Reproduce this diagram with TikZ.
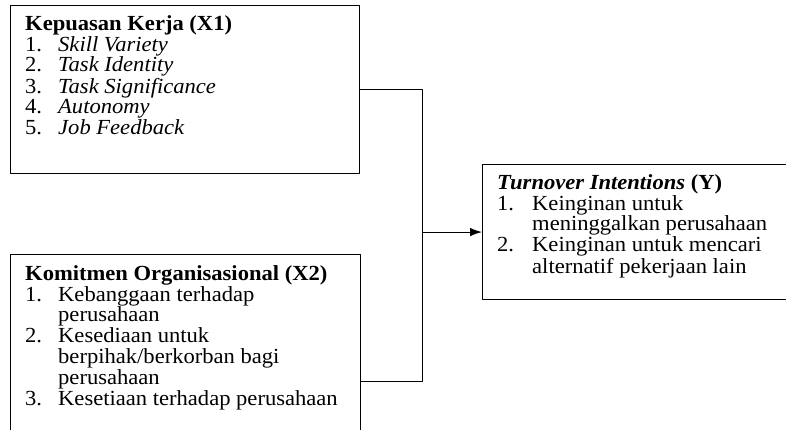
\documentclass[tikz,border=0pt]{standalone}
\usepackage{fontspec}
\setmainfont{Liberation Serif}[FakeStretch=1.05]
\usetikzlibrary{arrows.meta}
\newcommand{\boxtext}{\fontsize{21.5}{20}\selectfont}
\tikzset{
	varbox/.style={draw,line width=1.1pt,anchor=north west,inner sep=0},
	vartext/.style={anchor=north west,inner sep=0,font=\boxtext}
}
\begin{document}
\begin{tikzpicture}[x=1pt,y=-1pt,line join=round,>={Latex[length=12pt,width=8.5pt]}]
	\clip (0,0) rectangle (786,430);
	% kotak variabel
	\node[varbox,minimum width=349pt,minimum height=168pt] (x1) at (10,5) {};
	\node[varbox,minimum width=350pt,minimum height=254pt] (x2) at (10,254) {};
	\node[varbox,minimum width=318pt,minimum height=135pt] (y) at (482,164) {};
	\node[vartext] (x1txt) at (25,15) {\begin{tabular}{@{}p{33pt}@{}l@{}}
		\multicolumn{2}{@{}l@{}}{\textbf{Kepuasan Kerja (X1)}}\\
		1. & \textit{Skill Variety}\\
		2. & \textit{Task Identity}\\
		3. & \textit{Task Significance}\\
		4. & \textit{Autonomy}\\
		5. & \textit{Job Feedback}
	\end{tabular}};
	\node[vartext] (x2txt) at (25,265) {\begin{tabular}{@{}p{33pt}@{}l@{}}
		\multicolumn{2}{@{}l@{}}{\textbf{Komitmen Organisasional (X2)}}\\
		1. & Kebanggaan terhadap\\
		   & perusahaan\\
		2. & Kesediaan untuk\\
		   & berpihak/berkorban bagi\\
		   & perusahaan\\
		3. & Kesetiaan terhadap perusahaan
	\end{tabular}};
	\node[vartext] (ytxt) at (497,174) {\begin{tabular}{@{}p{35pt}@{}l@{}}
		\multicolumn{2}{@{}l@{}}{\textbf{\textit{Turnover Intentions} (Y)}}\\
		1. & Keinginan untuk\\
		   & meninggalkan perusahaan\\
		2. & Keinginan untuk mencari\\
		   & alternatif pekerjaan lain
	\end{tabular}};
	% garis penghubung
	\coordinate (j) at (422,232);
	\draw[line width=1pt] (x1.east) -- (x1.east -| j) -- (x2.east -| j) -- (x2.east);
	\draw[line width=1pt,->] (j |- y.west) -- (y.west);
\end{tikzpicture}
\end{document}
